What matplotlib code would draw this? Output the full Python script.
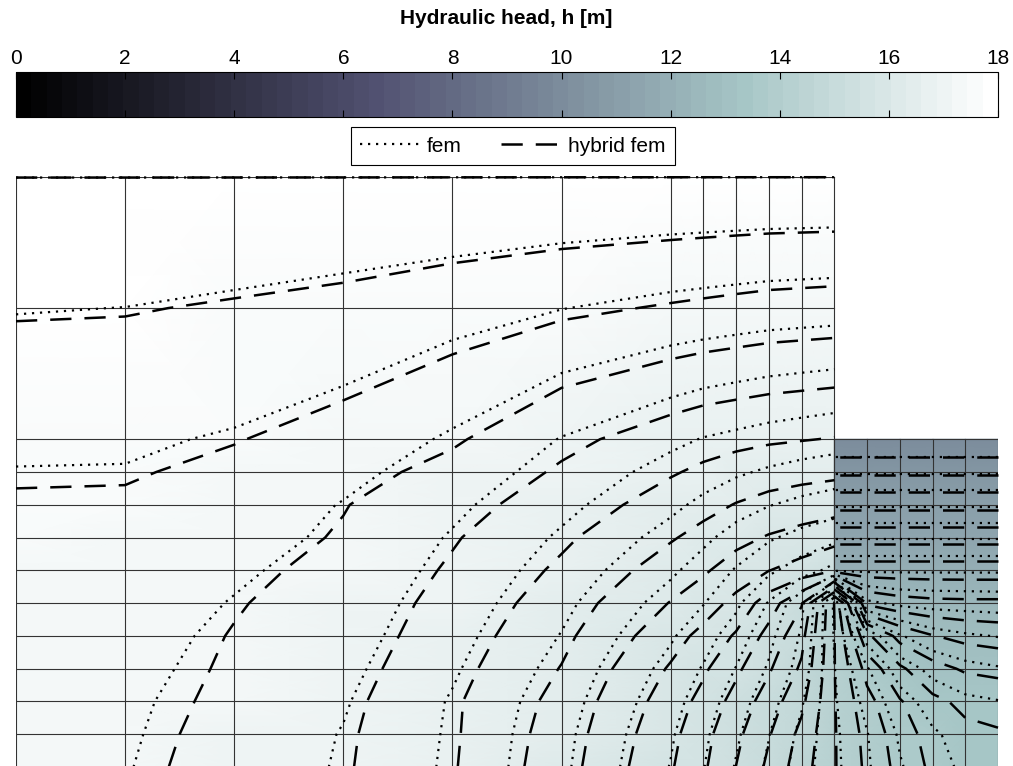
import numpy as np
import matplotlib.pyplot as plt
from matplotlib.lines import Line2D

plt.rcParams['font.family'] = ['Liberation Sans', 'DejaVu Sans']

# mesh node coordinates [m]: soil block left of the wall and excavation pit right of it
x_soil = [0, 10/3, 20/3, 10, 40/3, 50/3, 20, 21, 22, 23, 24, 25]
y_soil = [0, 1, 2, 3, 4, 5, 6, 7, 8, 9, 10, 14, 18]
x_pit = [25, 26, 27, 28, 29, 30]
y_pit = [0, 1, 2, 3, 4, 5, 6, 7, 8, 9, 10]

# nodal hydraulic heads [m], rows from y=0 upwards
h_fem_soil = [
    [17.33, 17.26, 17.13, 16.98, 16.71, 16.30, 15.74, 15.51, 15.23, 14.95, 14.62, 14.31],
    [17.34, 17.27, 17.15, 16.99, 16.72, 16.32, 15.78, 15.55, 15.29, 15.01, 14.68, 14.30],
    [17.35, 17.28, 17.17, 17.02, 16.73, 16.36, 15.84, 15.63, 15.37, 15.10, 14.78, 14.28],
    [17.36, 17.30, 17.19, 17.06, 16.78, 16.42, 15.92, 15.73, 15.49, 15.22, 14.90, 14.26],
    [17.38, 17.32, 17.21, 17.10, 16.83, 16.49, 16.03, 15.85, 15.63, 15.32, 14.97, 14.23],
    [17.40, 17.35, 17.24, 17.13, 16.88, 16.56, 16.15, 16.01, 15.80, 15.48, 15.06, 14.21],
    [17.42, 17.38, 17.28, 17.17, 16.93, 16.64, 16.29, 16.15, 15.98, 15.80, 15.62, 15.42],
    [17.44, 17.41, 17.33, 17.21, 16.98, 16.72, 16.42, 16.30, 16.16, 16.03, 15.92, 15.82],
    [17.47, 17.44, 17.38, 17.24, 17.05, 16.81, 16.55, 16.45, 16.35, 16.26, 16.19, 16.13],
    [17.49, 17.49, 17.43, 17.31, 17.14, 16.90, 16.67, 16.60, 16.53, 16.47, 16.42, 16.38],
    [17.55, 17.53, 17.48, 17.39, 17.22, 16.99, 16.80, 16.74, 16.70, 16.66, 16.63, 16.60],
    [17.76, 17.748, 17.71, 17.66, 17.59, 17.505, 17.43, 17.41, 17.39, 17.37, 17.36, 17.35],
    [18.0, 18.0, 18.0, 18.0, 18.0, 18.0, 18.0, 18.0, 18.0, 18.0, 18.0, 18.0],
]
h_fem_pit = [
    [14.31, 14.03, 13.77, 13.60, 13.45, 13.42],
    [14.30, 14.01, 13.72, 13.53, 13.42, 13.38],
    [14.28, 13.92, 13.60, 13.40, 13.30, 13.26],
    [14.26, 13.77, 13.38, 13.18, 13.07, 13.02],
    [14.23, 13.40, 13.02, 12.85, 12.78, 12.74],
    [14.21, 12.55, 12.45, 12.42, 12.41, 12.40],
    [11.97, 11.97, 11.97, 11.97, 11.97, 11.97],
    [11.48, 11.48, 11.48, 11.48, 11.48, 11.48],
    [10.97, 10.97, 10.97, 10.97, 10.97, 10.97],
    [10.47, 10.47, 10.47, 10.47, 10.47, 10.47],
    [10.0, 10.0, 10.0, 10.0, 10.0, 10.0],
]
h_hyb_soil = [
    [17.35, 17.30, 17.175, 17.025, 16.77, 16.36, 15.775, 15.536, 15.246, 14.95, 14.61, 14.27],
    [17.36, 17.31, 17.19, 17.035, 16.78, 16.385, 15.82, 15.58, 15.31, 15.02, 14.68, 14.27],
    [17.37, 17.32, 17.21, 17.06, 16.785, 16.425, 15.885, 15.67, 15.41, 15.13, 14.81, 14.265],
    [17.38, 17.34, 17.225, 17.095, 16.83, 16.49, 15.975, 15.79, 15.55, 15.28, 14.96, 14.26],
    [17.40, 17.36, 17.24, 17.13, 16.875, 16.56, 16.10, 15.93, 15.72, 15.42, 15.08, 14.26],
    [17.42, 17.39, 17.265, 17.155, 16.92, 16.63, 16.24, 16.12, 15.93, 15.62, 15.27, 14.24],
    [17.44, 17.415, 17.30, 17.19, 16.97, 16.71, 16.39, 16.28, 16.14, 16.005, 15.90, 15.76],
    [17.46, 17.44, 17.35, 17.23, 17.02, 16.79, 16.52, 16.43, 16.32, 16.23, 16.16, 16.09],
    [17.49, 17.47, 17.40, 17.26, 17.09, 16.88, 16.65, 16.57, 16.49, 16.43, 16.39, 16.35],
    [17.51, 17.52, 17.45, 17.33, 17.18, 16.97, 16.77, 16.71, 16.65, 16.60, 16.57, 16.55],
    [17.57, 17.56, 17.51, 17.42, 17.28, 17.06, 16.89, 16.84, 16.81, 16.78, 16.76, 16.74],
    [17.77, 17.763, 17.73, 17.69, 17.62, 17.545, 17.48, 17.46, 17.44, 17.42, 17.41, 17.40],
    [18.0, 18.0, 18.0, 18.0, 18.0, 18.0, 18.0, 18.0, 18.0, 18.0, 18.0, 18.0],
]
h_hyb_pit = [
    [14.27, 13.95, 13.67, 13.45, 13.32, 13.30],
    [14.27, 13.92, 13.62, 13.40, 13.30, 13.27],
    [14.265, 13.83, 13.52, 13.30, 13.20, 13.17],
    [14.26, 13.66, 13.29, 13.08, 12.97, 12.93],
    [14.26, 13.30, 12.92, 12.76, 12.68, 12.64],
    [14.24, 12.45, 12.35, 12.31, 12.30, 12.30],
    [11.88, 11.88, 11.88, 11.88, 11.88, 11.88],
    [11.41, 11.41, 11.41, 11.41, 11.41, 11.41],
    [10.93, 10.93, 10.93, 10.93, 10.93, 10.93],
    [10.45, 10.45, 10.45, 10.45, 10.45, 10.45],
    [10.0, 10.0, 10.0, 10.0, 10.0, 10.0],
]

# contour levels every 0.25 m, the top one sits on the h = 18 m boundary
levels = list(np.arange(10.25, 17.8, 0.25))
levels_top = levels + [17.999]
cbar_ticks = [0, 2, 4, 6, 8, 10, 12, 14, 16, 18]

fem_style = dict(colors='k', linewidths=1.6, linestyles=[(0, (1, 2.6))])
hyb_style = dict(colors='k', linewidths=1.8, linestyles=[(0, (8.5, 5.2))])
cmap = plt.get_cmap('bone', 64)

fig = plt.figure(figsize=(10.13, 7.66), dpi=100)
ax = fig.add_axes([16/1013, -1/766, 982/1013, 590/766])
ax.set_xlim(0, 30)
ax.set_ylim(0, 18)
ax.axis('off')

parts = [(x_soil, y_soil, h_fem_soil, h_hyb_soil, levels_top),
         (x_pit, y_pit, h_fem_pit, h_hyb_pit, levels)]
for xs, ys, hf, hh, lev in parts:
    X, Y = np.meshgrid(xs, ys)
    ax.pcolormesh(X, Y, np.array(hf), shading='gouraud', cmap=cmap,
                  vmin=0, vmax=18, zorder=0)
    ax.plot(X, Y, color='0.2', lw=0.8, zorder=1)
    ax.plot(X.T, Y.T, color='0.2', lw=0.8, zorder=1)
    cs1 = ax.contour(X, Y, np.array(hf), levels=lev, zorder=2, **fem_style)
    cs2 = ax.contour(X, Y, np.array(hh), levels=lev, zorder=3, **hyb_style)
    cs1.set_clip_on(False)
    cs2.set_clip_on(False)

# colour bar on top
cax = fig.add_axes([16/1013, 1 - 117/766, 982/1013, 45/766])
sm = plt.cm.ScalarMappable(norm=plt.Normalize(0, 18), cmap=cmap)
cb = fig.colorbar(sm, cax=cax, orientation='horizontal', ticks=cbar_ticks)
cax.tick_params(axis='x', direction='in', top=True, bottom=True,
                labeltop=True, labelbottom=False, length=5, width=0.8,
                labelsize=15, pad=3)
cb.outline.set_linewidth(0.8)
fig.text(0.5, 1 - 19/766, 'Hydraulic head, h [m]', ha='center', va='center',
         fontsize=15, fontweight='bold')

handles = [Line2D([], [], color='k', lw=1.6, ls=(0, (1, 2.6))),
           Line2D([], [], color='k', lw=1.8, ls=(0, (8.5, 5.2)))]
leg = fig.legend(handles, ['fem', 'hybrid fem'], loc='center',
                 bbox_to_anchor=(513/1013, 1 - 146/766), ncol=2,
                 fancybox=False, edgecolor='k', fontsize=15,
                 handlelength=2.9, handletextpad=0.3, columnspacing=1.9,
                 borderpad=0.45, framealpha=1)
leg.get_frame().set_linewidth(0.8)

fig.savefig('out.png', dpi=100)
